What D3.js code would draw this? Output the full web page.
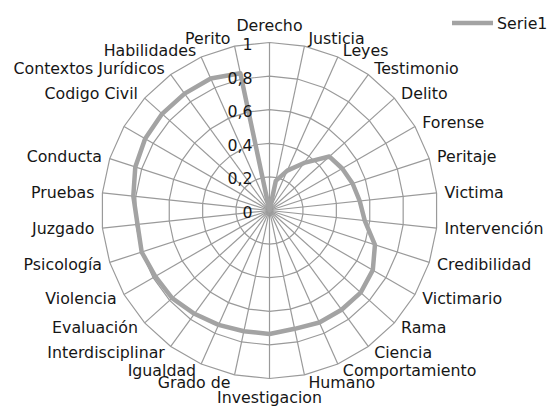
<!DOCTYPE html>
<html>
<head>
<meta charset="utf-8">
<script src="https://cdn.jsdelivr.net/npm/d3@7/dist/d3.min.js"></script>
<style>
  html, body { margin: 0; padding: 0; background: #ffffff; }
  svg { display: block; }
  text { font-family: "DejaVu Sans", sans-serif; fill: #161616; }
</style>
</head>
<body>
<svg id="chart" width="559" height="412"></svg>
<script>
// ---- data ----
const categories = [
  "Derecho", "Justicia", "Leyes", "Testimonio", "Delito", "Forense", "Peritaje",
  "Victima", "Intervención", "Credibilidad", "Victimario", "Rama", "Ciencia",
  "Comportamiento", "Humano", "Investigacion", "Grado de", "Igualdad",
  "Interdisciplinar", "Evaluación", "Violencia", "Psicología", "Juzgado",
  "Pruebas", "Conducta", "", "Codigo Civil", "Contextos Jurídicos",
  "Habilidades", "Perito"
];
const serie1 = [
  0.00, 0.18, 0.26, 0.35, 0.48, 0.50, 0.52,
  0.54, 0.57, 0.66, 0.71, 0.73, 0.73,
  0.73, 0.72, 0.735, 0.735, 0.745,
  0.76, 0.78, 0.785, 0.80, 0.79,
  0.815, 0.84, 0.855, 0.86, 0.86,
  0.86, 0.835
];
const seriesName = "Serie1";
const tickValues = [0, 0.2, 0.4, 0.6, 0.8, 1];
const tickLabels = ["0", "0,2", "0,4", "0,6", "0,8", "1"];

// ---- layout ----
const svg = d3.select("#chart");
const cx = 269.5, cy = 210.5, R = 168;
const n = categories.length;
const r = d3.scaleLinear().domain([0, 1]).range([0, R]);
const ang = d3.scaleLinear().domain([0, n]).range([0, 2 * Math.PI]);
const fs = 15.8;

const g = svg.append("g").attr("transform", `translate(${cx},${cy})`);
const gridColor = "#9a9a9a";

// rings (polygons)
const ringLine = d3.lineRadial().angle((d, i) => ang(i)).radius(d => r(d)).curve(d3.curveLinearClosed);
tickValues.filter(v => v > 0).forEach(v => {
  g.append("path")
    .attr("d", ringLine(d3.range(n).map(() => v)))
    .attr("fill", "none")
    .attr("stroke", gridColor)
    .attr("stroke-width", 1.2);
});

// spokes
categories.forEach((c, i) => {
  const a = ang(i);
  g.append("line")
    .attr("x1", 0).attr("y1", 0)
    .attr("x2", r(1) * Math.sin(a)).attr("y2", -r(1) * Math.cos(a))
    .attr("stroke", gridColor)
    .attr("stroke-width", 1.2);
});

// category labels
categories.forEach((c, i) => {
  const a = ang(i);
  const s = Math.sin(a), co = Math.cos(a);
  const ex = r(1) * s, ey = -r(1) * co;
  let x, y, anchor;
  if (Math.abs(s) < 1e-6) {
    anchor = "middle";
    x = ex;
    y = ey + (co > 0 ? -17.5 : 18.5);
  } else {
    anchor = s > 0 ? "start" : "end";
    x = ex + Math.sign(s) * (3 + 5 * Math.abs(s));
    y = ey - co * 7.5;
  }
  g.append("text")
    .attr("x", x).attr("y", y)
    .attr("text-anchor", anchor)
    .attr("dominant-baseline", "central")
    .attr("font-size", fs)
    .text(c);
});

// data line
const dataLine = d3.lineRadial().angle((d, i) => ang(i)).radius(d => r(d)).curve(d3.curveLinearClosed);
g.append("path")
  .attr("d", dataLine(serie1))
  .attr("fill", "none")
  .attr("stroke", "#a3a3a3")
  .attr("stroke-width", 4.5)
  .attr("stroke-linejoin", "round");

// tick labels
tickValues.forEach((v, i) => {
  g.append("text")
    .attr("x", -17)
    .attr("y", -r(v) + 2)
    .attr("text-anchor", "end")
    .attr("dominant-baseline", "central")
    .attr("font-size", fs)
    .text(tickLabels[i]);
});

// legend
const lg = svg.append("g").attr("transform", "translate(452,23)");
lg.append("line").attr("x1", 0).attr("x2", 41).attr("y1", 0).attr("y2", 0)
  .attr("stroke", "#a3a3a3").attr("stroke-width", 4.5);
lg.append("text").attr("x", 45).attr("y", 0).attr("dominant-baseline", "central")
  .attr("font-size", fs).text(seriesName);
</script>
</body>
</html>
